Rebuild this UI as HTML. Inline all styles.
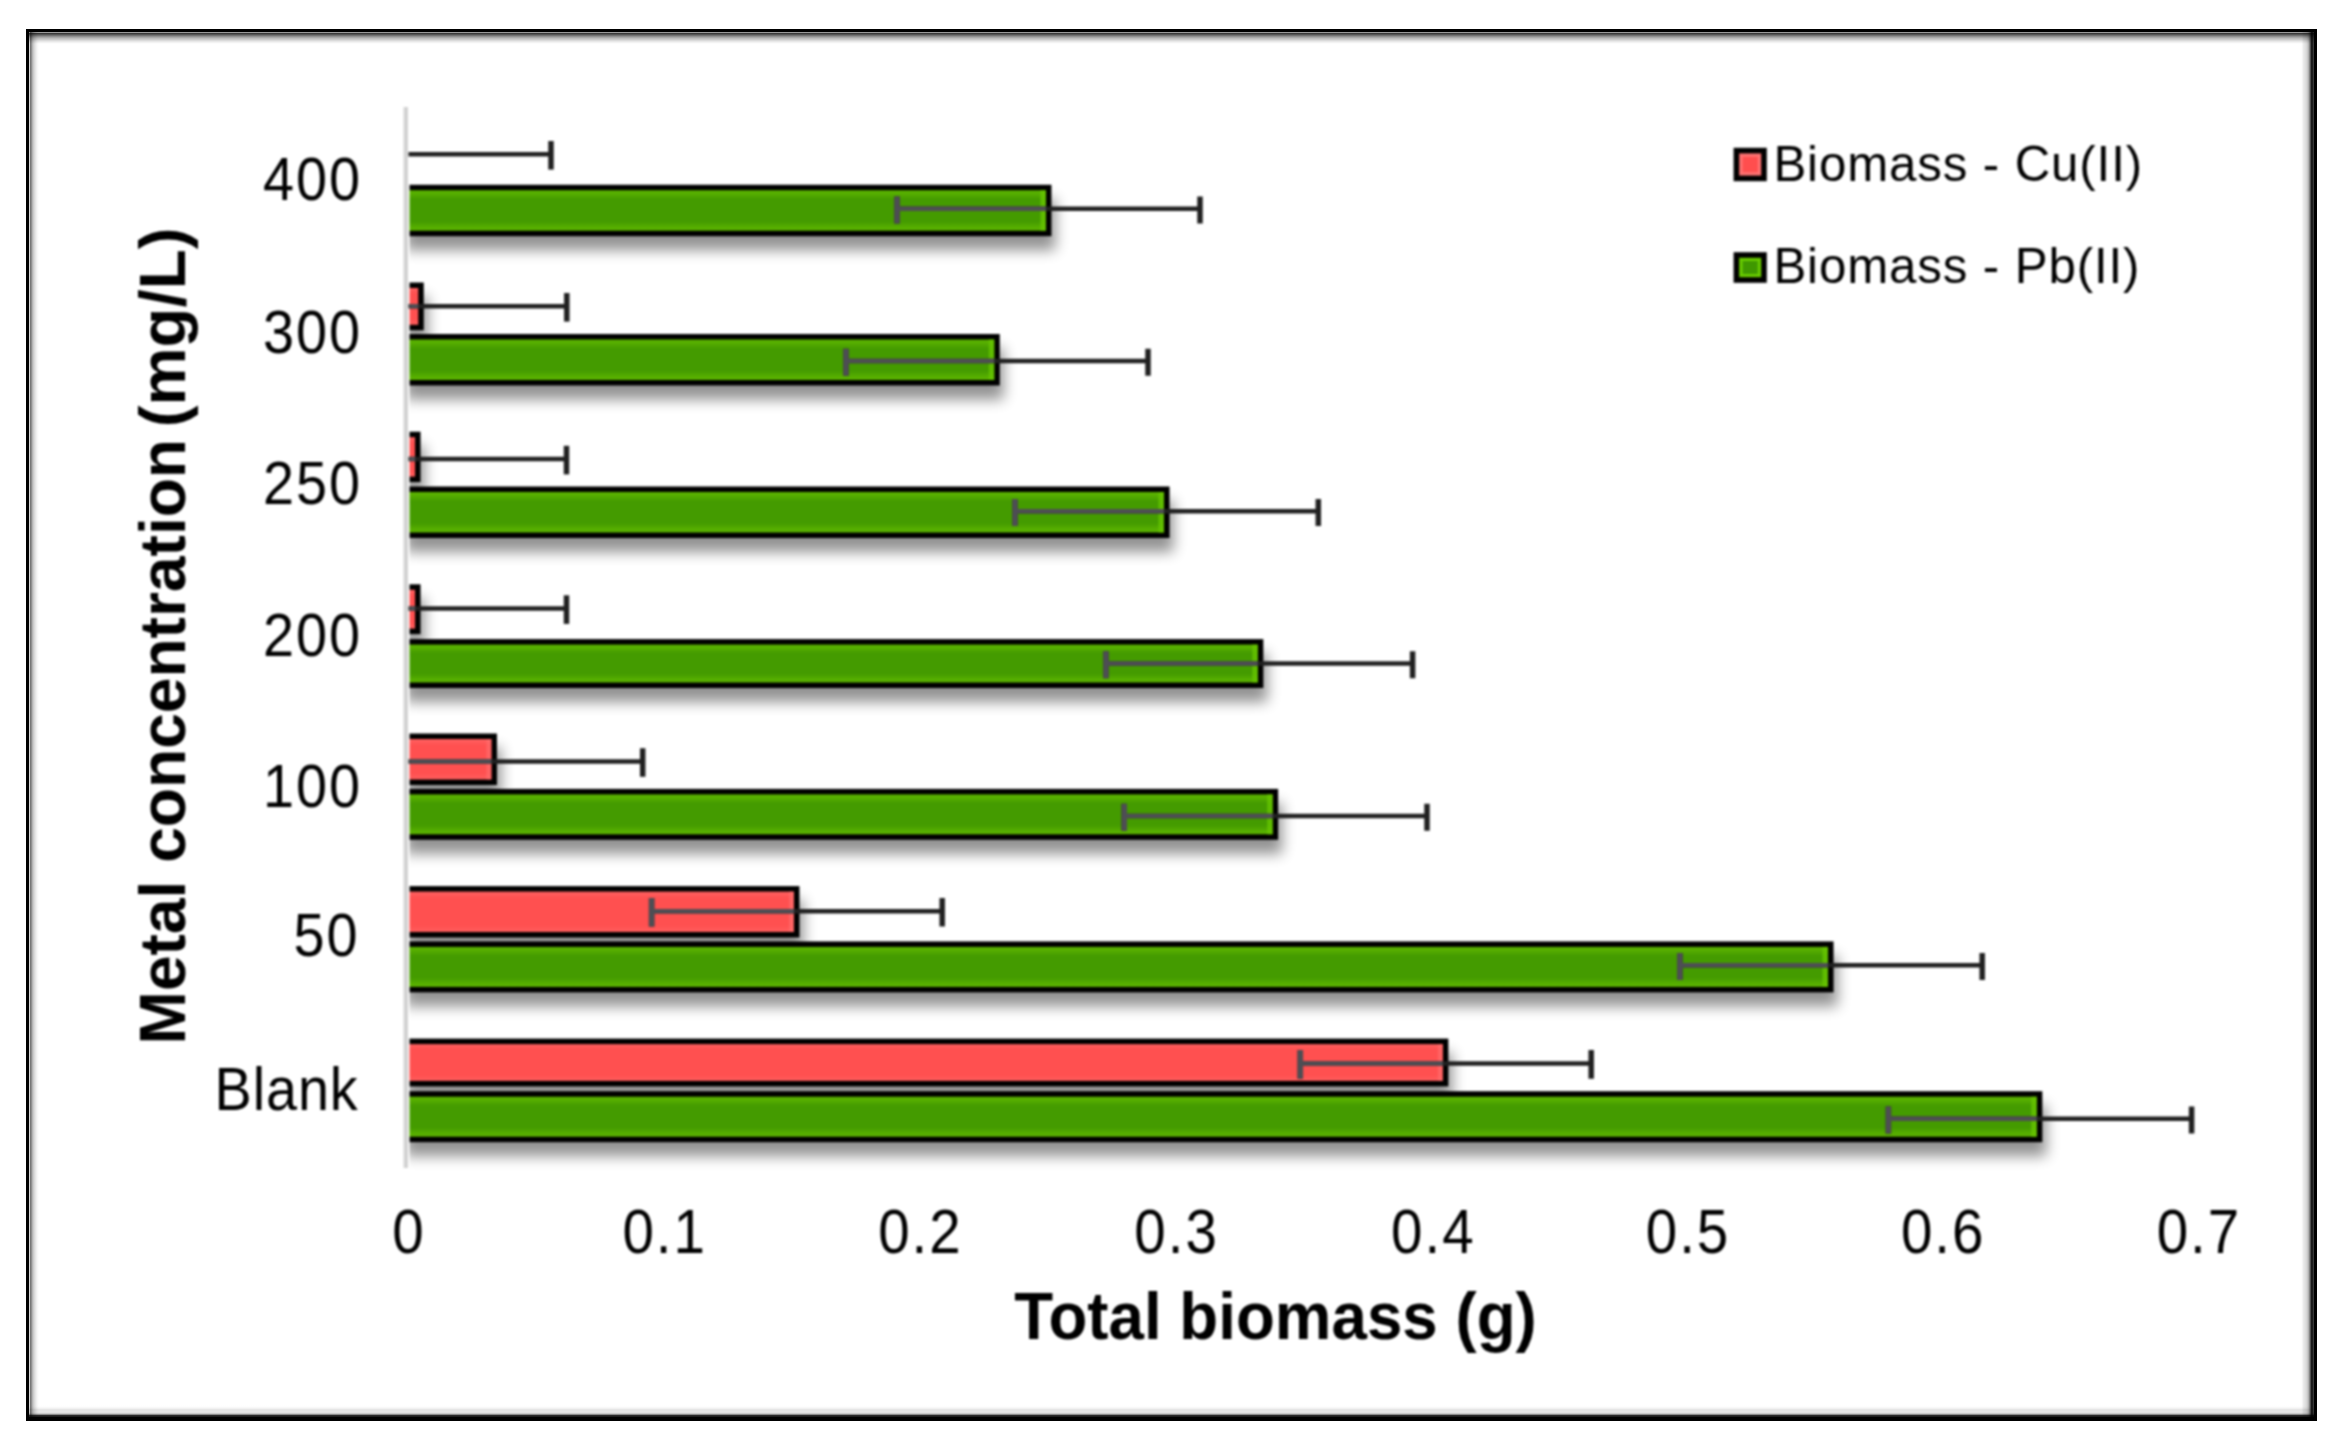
<!DOCTYPE html>
<html lang="en">
<head>
<meta charset="utf-8">
<title>Total biomass vs metal concentration</title>
<style>
html,body{margin:0;padding:0;background:#fff;}
body{width:2345px;height:1445px;overflow:hidden;position:relative;font-family:"Liberation Sans",sans-serif;}
#frame{position:absolute;left:26px;top:29px;width:2291px;height:1392px;box-sizing:border-box;border:3px solid #000;border-bottom-width:4px;background:#fff;}
#frame i{position:absolute;display:block;mix-blend-mode:multiply;}
#ft{left:0;right:0;top:0;height:12px;background:linear-gradient(to bottom,#9a9a9a .5px,#3a3a3a 1.5px,#555 2.5px,#727272 3.5px,#909090 4.5px,#a8a8a8 5.5px,#bcbcbc 6.5px,#cacaca 7.5px,#dadada 8.5px,#e8e8e8 9.5px,#f3f3f3 10.5px,#fcfcfc 11.5px,#fff 12px);}
#fb{left:0;right:0;bottom:0;height:12px;background:linear-gradient(to top,#1c1c1c .5px,#2a2a2a 1.5px,#8a8a8a 2.5px,#c8c8c8 3.5px,#e0e0e0 4.5px,#e5e5e5 5.5px,#e3e3e3 6.5px,#e6e6e6 7.5px,#f1f1f1 8.5px,#f8f8f8 9.5px,#fdfdfd 10.5px,#fff 12px);}
#fl{left:0;top:0;bottom:0;width:10px;background:linear-gradient(to right,#d8d8d8 .5px,#777 1.5px,#909090 2.5px,#b4b4b4 3.5px,#cbcbcb 4.5px,#dadada 5.5px,#e6e6e6 6.5px,#f0f0f0 7.5px,#f8f8f8 8.5px,#fff 10px);}
#fr{right:0;top:0;bottom:0;width:14px;background:linear-gradient(to left,#383838 .5px,#1c1c1c 1.5px,#1a1a1a 2.5px,#505050 3.5px,#858585 4.5px,#b0b0b0 5.5px,#c8c8c8 6.5px,#d6d6d6 7.5px,#dedede 8.5px,#e4e4e4 9.5px,#eaeaea 10.5px,#f4f4f4 11.5px,#fcfcfc 12.5px,#fff 14px);}
svg{position:absolute;left:0;top:0;filter:blur(1.1px);}
text{font-family:"Liberation Sans",sans-serif;fill:#000;}
.tick{font-size:62.8px;letter-spacing:2.2px;}
.cat{font-size:62px;letter-spacing:2.2px;text-anchor:end;}
.leg{font-size:50.5px;fill:#000;letter-spacing:.9px;}
.ttl{font-weight:bold;font-size:63.7px;}
</style>
</head>
<body>
<div id="frame"><i id="ft"></i><i id="fb"></i><i id="fl"></i><i id="fr"></i></div>
<svg width="2345" height="1445" viewBox="0 0 2345 1445">
<defs>
<filter id="sh" filterUnits="userSpaceOnUse" x="380" y="80" width="1920" height="1130" color-interpolation-filters="sRGB">
 <feGaussianBlur in="SourceAlpha" stdDeviation="7"/>
 <feOffset dx="4" dy="14" result="o"/>
 <feComponentTransfer><feFuncA type="linear" slope="0.43"/></feComponentTransfer>
 <feMerge><feMergeNode/><feMergeNode in="SourceGraphic"/></feMerge>
</filter>
<linearGradient id="gg" x1="0" y1="0" x2="0" y2="1">
 <stop offset="0" stop-color="#5cb600"/><stop offset="0.12" stop-color="#58b000"/><stop offset="0.26" stop-color="#449b00"/>
 <stop offset="0.74" stop-color="#449b00"/><stop offset="0.88" stop-color="#58b000"/><stop offset="1" stop-color="#5cb600"/>
</linearGradient>
<linearGradient id="rg" x1="0" y1="0" x2="0" y2="1">
 <stop offset="0" stop-color="#ff6868"/><stop offset="0.2" stop-color="#ff5050"/>
 <stop offset="0.8" stop-color="#ff5050"/><stop offset="1" stop-color="#ff6464"/>
</linearGradient>
<clipPath id="cp"><rect x="409.5" y="90" width="1900" height="1100"/></clipPath>
</defs>
<rect x="403.6" y="107" width="4.4" height="1061" fill="#d2d2d2"/>
<g id="bars" clip-path="url(#cp)">
<g filter="url(#sh)"><rect x="403.5" y="187.50" width="645.2" height="45.95" fill="url(#gg)" stroke="#000" stroke-width="5.5"/><rect x="1040.5" y="190.25" width="5.5" height="40.45" fill="#66c400" opacity=".8"/></g>
<g filter="url(#sh)"><rect x="403.5" y="285.25" width="17.5" height="42.30" fill="url(#rg)" stroke="#000" stroke-width="5.5"/></g>
<g filter="url(#sh)"><rect x="403.5" y="336.75" width="593.5" height="46.00" fill="url(#gg)" stroke="#000" stroke-width="5.5"/><rect x="988.8" y="339.50" width="5.5" height="40.50" fill="#66c400" opacity=".8"/></g>
<g filter="url(#sh)"><rect x="403.5" y="434.45" width="14.3" height="44.90" fill="url(#rg)" stroke="#000" stroke-width="5.5"/></g>
<g filter="url(#sh)"><rect x="403.5" y="489.25" width="763.3" height="46.00" fill="url(#gg)" stroke="#000" stroke-width="5.5"/><rect x="1158.5" y="492.00" width="5.5" height="40.50" fill="#66c400" opacity=".8"/></g>
<g filter="url(#sh)"><rect x="403.5" y="587.05" width="14.3" height="44.30" fill="url(#rg)" stroke="#000" stroke-width="5.5"/></g>
<g filter="url(#sh)"><rect x="403.5" y="641.85" width="857.1" height="43.40" fill="url(#gg)" stroke="#000" stroke-width="5.5"/><rect x="1252.3" y="644.60" width="5.5" height="37.90" fill="#66c400" opacity=".8"/></g>
<g filter="url(#sh)"><rect x="403.5" y="736.25" width="90.7" height="46.00" fill="url(#rg)" stroke="#000" stroke-width="5.5"/><rect x="486.4" y="739.00" width="5" height="40.50" fill="#ff7070" opacity=".6"/></g>
<g filter="url(#sh)"><rect x="403.5" y="791.65" width="871.9" height="45.40" fill="url(#gg)" stroke="#000" stroke-width="5.5"/><rect x="1267.2" y="794.40" width="5.5" height="39.90" fill="#66c400" opacity=".8"/></g>
<g filter="url(#sh)"><rect x="403.5" y="888.85" width="393.2" height="45.90" fill="url(#rg)" stroke="#000" stroke-width="5.5"/><rect x="789.0" y="891.60" width="5" height="40.40" fill="#ff7070" opacity=".6"/></g>
<g filter="url(#sh)"><rect x="403.5" y="944.15" width="1427.3" height="45.50" fill="url(#gg)" stroke="#000" stroke-width="5.5"/><rect x="1822.5" y="946.90" width="5.5" height="40.00" fill="#66c400" opacity=".8"/></g>
<g filter="url(#sh)"><rect x="403.5" y="1041.35" width="1042.1" height="42.30" fill="url(#rg)" stroke="#000" stroke-width="5.5"/><rect x="1437.8" y="1044.10" width="5" height="36.80" fill="#ff7070" opacity=".6"/></g>
<g filter="url(#sh)"><rect x="403.5" y="1093.95" width="1636.1" height="45.50" fill="url(#gg)" stroke="#000" stroke-width="5.5"/><rect x="2031.3" y="1096.70" width="5.5" height="40.00" fill="#66c400" opacity=".8"/></g>
</g>
<g id="errs" fill="none" stroke="#202020">
<path d="M408.5 154.3H551.0" stroke-width="4.5"/><path d="M551.0 141.0V169.6" stroke-width="5.5"/>
<path d="M897.0 208.8H1200.0" stroke-width="4.5"/><path d="M897.0 196.5V223.5M1200.0 196.5V223.5" stroke-width="5.5"/>
<path d="M408.5 306.3H566.8" stroke-width="4.5"/><path d="M566.8 293.0V321.6" stroke-width="5.5"/>
<path d="M846.0 361.0H1148.0" stroke-width="4.5"/><path d="M846.0 348.7V375.7M1148.0 348.7V375.7" stroke-width="5.5"/>
<path d="M408.5 459.1H566.5" stroke-width="4.5"/><path d="M566.5 445.8V474.4" stroke-width="5.5"/>
<path d="M1015.0 511.3H1318.3" stroke-width="4.5"/><path d="M1015.0 499.0V526.0M1318.3 499.0V526.0" stroke-width="5.5"/>
<path d="M408.5 608.6H566.5" stroke-width="4.5"/><path d="M566.5 595.3V623.9" stroke-width="5.5"/>
<path d="M1106.0 663.5H1412.6" stroke-width="4.5"/><path d="M1106.0 651.2V678.2M1412.6 651.2V678.2" stroke-width="5.5"/>
<path d="M408.5 761.5H642.7" stroke-width="4.5"/><path d="M642.7 748.2V776.8" stroke-width="5.5"/>
<path d="M1124.2 816.0H1427.0" stroke-width="4.5"/><path d="M1124.2 803.7V830.7M1427.0 803.7V830.7" stroke-width="5.5"/>
<path d="M651.6 911.2H942.2" stroke-width="4.5"/><path d="M651.6 897.9V926.5M942.2 897.9V926.5" stroke-width="5.5"/>
<path d="M1679.9 965.3H1982.2" stroke-width="4.5"/><path d="M1679.9 953.0V980.0M1982.2 953.0V980.0" stroke-width="5.5"/>
<path d="M1300.3 1063.4H1591.2" stroke-width="4.5"/><path d="M1300.3 1050.1V1078.7M1591.2 1050.1V1078.7" stroke-width="5.5"/>
<path d="M1888.4 1118.8H2191.6" stroke-width="4.5"/><path d="M1888.4 1106.5V1133.5M2191.6 1106.5V1133.5" stroke-width="5.5"/>
</g>
<clipPath id="inb">
<rect x="409.5" y="190.2" width="636.5" height="40.4"/>
<rect x="409.5" y="288.0" width="8.8" height="36.8"/>
<rect x="409.5" y="339.5" width="584.8" height="40.5"/>
<rect x="409.5" y="437.2" width="5.6" height="39.4"/>
<rect x="409.5" y="492.0" width="754.5" height="40.5"/>
<rect x="409.5" y="589.8" width="5.6" height="38.8"/>
<rect x="409.5" y="644.6" width="848.3" height="37.9"/>
<rect x="409.5" y="739.0" width="81.9" height="40.5"/>
<rect x="409.5" y="794.4" width="863.2" height="39.9"/>
<rect x="409.5" y="891.6" width="384.5" height="40.4"/>
<rect x="409.5" y="946.9" width="1418.5" height="40.0"/>
<rect x="409.5" y="1044.1" width="1033.3" height="36.8"/>
<rect x="409.5" y="1096.7" width="1627.3" height="40.0"/>
</clipPath>
<g id="errs-in" fill="none" stroke="#4e4e54" clip-path="url(#inb)">
<path d="M408.5 154.3H551.0" stroke-width="4.5"/><path d="M551.0 141.0V169.6" stroke-width="5.5"/>
<path d="M897.0 208.8H1200.0" stroke-width="4.5"/><path d="M897.0 196.5V223.5M1200.0 196.5V223.5" stroke-width="5.5"/>
<path d="M408.5 306.3H566.8" stroke-width="4.5"/><path d="M566.8 293.0V321.6" stroke-width="5.5"/>
<path d="M846.0 361.0H1148.0" stroke-width="4.5"/><path d="M846.0 348.7V375.7M1148.0 348.7V375.7" stroke-width="5.5"/>
<path d="M408.5 459.1H566.5" stroke-width="4.5"/><path d="M566.5 445.8V474.4" stroke-width="5.5"/>
<path d="M1015.0 511.3H1318.3" stroke-width="4.5"/><path d="M1015.0 499.0V526.0M1318.3 499.0V526.0" stroke-width="5.5"/>
<path d="M408.5 608.6H566.5" stroke-width="4.5"/><path d="M566.5 595.3V623.9" stroke-width="5.5"/>
<path d="M1106.0 663.5H1412.6" stroke-width="4.5"/><path d="M1106.0 651.2V678.2M1412.6 651.2V678.2" stroke-width="5.5"/>
<path d="M408.5 761.5H642.7" stroke-width="4.5"/><path d="M642.7 748.2V776.8" stroke-width="5.5"/>
<path d="M1124.2 816.0H1427.0" stroke-width="4.5"/><path d="M1124.2 803.7V830.7M1427.0 803.7V830.7" stroke-width="5.5"/>
<path d="M651.6 911.2H942.2" stroke-width="4.5"/><path d="M651.6 897.9V926.5M942.2 897.9V926.5" stroke-width="5.5"/>
<path d="M1679.9 965.3H1982.2" stroke-width="4.5"/><path d="M1679.9 953.0V980.0M1982.2 953.0V980.0" stroke-width="5.5"/>
<path d="M1300.3 1063.4H1591.2" stroke-width="4.5"/><path d="M1300.3 1050.1V1078.7M1591.2 1050.1V1078.7" stroke-width="5.5"/>
<path d="M1888.4 1118.8H2191.6" stroke-width="4.5"/><path d="M1888.4 1106.5V1133.5M2191.6 1106.5V1133.5" stroke-width="5.5"/>
</g>
<text class="cat" transform="translate(362 199.8) scale(0.9 1)">400</text>
<text class="cat" transform="translate(362 353.0) scale(0.9 1)">300</text>
<text class="cat" transform="translate(362 504.4) scale(0.9 1)">250</text>
<text class="cat" transform="translate(362 655.8) scale(0.9 1)">200</text>
<text class="cat" transform="translate(362 807.2) scale(0.9 1)">100</text>
<text class="cat" transform="translate(359.5 955.8) scale(0.9 1)">50</text>
<text class="cat" style="letter-spacing:1px" transform="translate(358.6 1110.0) scale(0.9 1)">Blank</text>
<text class="tick" text-anchor="middle" transform="translate(409.0 1252.8) scale(0.9 1)">0</text>
<text class="tick" text-anchor="middle" transform="translate(664.7 1252.8) scale(0.9 1)">0.1</text>
<text class="tick" text-anchor="middle" transform="translate(920.4 1252.8) scale(0.9 1)">0.2</text>
<text class="tick" text-anchor="middle" transform="translate(1176.6 1252.8) scale(0.9 1)">0.3</text>
<text class="tick" text-anchor="middle" transform="translate(1433.3 1252.8) scale(0.9 1)">0.4</text>
<text class="tick" text-anchor="middle" transform="translate(1688.0 1252.8) scale(0.9 1)">0.5</text>
<text class="tick" text-anchor="middle" transform="translate(1943.2 1252.8) scale(0.9 1)">0.6</text>
<text class="tick" text-anchor="middle" transform="translate(2198.9 1252.8) scale(0.9 1)">0.7</text>
<text class="ttl" style="font-size:65.5px" text-anchor="middle" transform="translate(1275.5 1339.3) scale(.9725 1.02)">Total biomass (g)</text>
<text class="ttl" style="font-size:64.1px" text-anchor="middle" transform="translate(185 636) rotate(-90)">Metal concentration<tspan dx="-6.5" style="font-size:65.4px"> (mg/L)</tspan></text>
<rect x="1736.4" y="150.6" width="27.6" height="27.8" fill="#ff7272" stroke="#000" stroke-width="5.6"/>
<rect x="1742.6" y="156.8" width="15.2" height="15.4" fill="#ff4e4e"/>
<text class="leg" transform="translate(1773.4 180.8) scale(.975 1)">Biomass - Cu(II)</text>
<rect x="1736.4" y="255.0" width="27.6" height="25.0" fill="#68cc00" stroke="#000" stroke-width="5.6"/>
<rect x="1742.6" y="261.0" width="15.2" height="13.0" fill="#3f9800"/>
<text class="leg" transform="translate(1773.4 282.7) scale(.975 1)">Biomass - Pb(II)</text>
</svg>
</body>
</html>
